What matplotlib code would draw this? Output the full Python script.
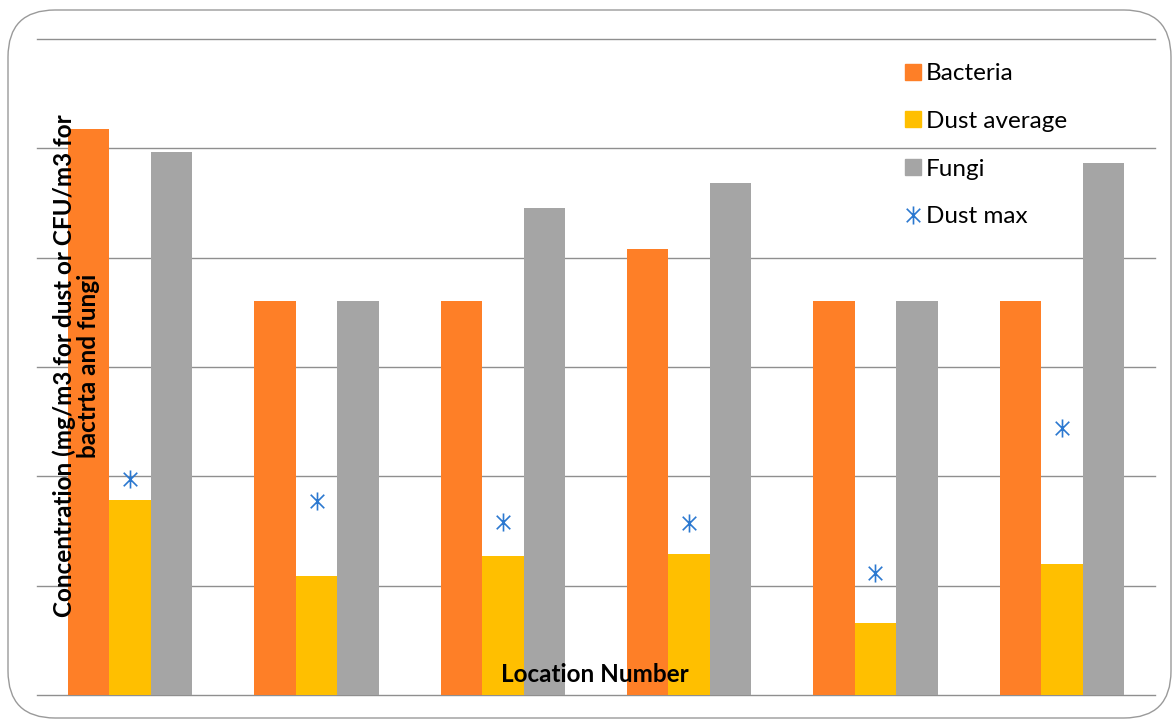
import matplotlib
matplotlib.use("Agg")
import matplotlib.pyplot as plt
import numpy as np
from matplotlib.patches import FancyBboxPatch
from matplotlib.lines import Line2D
from matplotlib.path import Path

plt.rcParams['font.family'] = ['Lato', 'DejaVu Sans']

locations = ["1", "2", "3", "4", "5", "6"]
bacteria = [5.18, 3.60, 3.60, 4.08, 3.60, 3.60]
dust_average = [1.78, 1.09, 1.27, 1.29, 0.66, 1.20]
fungi = [4.97, 3.60, 4.45, 4.68, 3.60, 4.87]
dust_max = [1.98, 1.77, 1.58, 1.57, 1.12, 2.44]

c_bact = "#FE7F27"
c_dust = "#FFBF00"
c_fungi = "#A5A5A5"
c_max = "#2B78D0"

star = Path([(0, -1), (0, 1), (-0.75, -0.75), (0.75, 0.75), (-0.75, 0.75), (0.75, -0.75)],
            [Path.MOVETO, Path.LINETO, Path.MOVETO, Path.LINETO, Path.MOVETO, Path.LINETO])

fig = plt.figure(figsize=(11.76, 7.2), dpi=100)
W, H = 1176, 720
border = FancyBboxPatch((8 / W, 2 / H), (1171 - 8) / W, (710 - 2) / H,
                        boxstyle="round,pad=0,rounding_size=0.04",
                        transform=fig.transFigure, facecolor="none",
                        edgecolor="#9a9a9a", linewidth=1.0, mutation_aspect=W / H,
                        zorder=-1)
fig.patches.append(border)

ax = fig.add_axes([37 / W, (720 - 695) / H, (1155 - 37) / W, (695 - 39) / H])
ax.set_facecolor("none")
x = np.arange(len(locations))
w = 0.2225
ax.bar(x - w, bacteria, w, color=c_bact, zorder=2)
ax.bar(x, dust_average, w, color=c_dust, zorder=2)
ax.bar(x + w, fungi, w, color=c_fungi, zorder=2)
ax.plot(x, dust_max, linestyle="none", marker=star, markersize=13,
        markeredgecolor=c_max, markeredgewidth=1.2, zorder=3)

ax.set_xlim(-0.5, len(locations) - 0.5)
ax.set_ylim(0, 6)
ax.set_yticks(np.arange(0, 7, 1))
ax.grid(axis="y", color="#8f8f8f", linewidth=1.0, zorder=0)
ax.set_axisbelow(True)
for s in ax.spines.values():
    s.set_visible(False)
ax.tick_params(left=False, bottom=False, labelleft=False, labelbottom=False)
for gl in ax.get_ygridlines():
    gl.set_clip_on(False)

fig.text(76 / W, (720 - 366) / H, "Concentration (mg/m3 for dust or CFU/m3 for\nbactrta and fungi",
         rotation=90, ha="center", va="center", fontsize=17.5, fontweight="bold",
         linespacing=1.05, zorder=5)
fig.text(595 / W, (720 - 675) / H, "Location Number", ha="center", va="center",
         fontsize=17.5, fontweight="bold", zorder=5)

handles = [
    Line2D([], [], linestyle="none", marker="s", markersize=11, color=c_bact),
    Line2D([], [], linestyle="none", marker="s", markersize=11, color=c_dust),
    Line2D([], [], linestyle="none", marker="s", markersize=11, color=c_fungi),
    Line2D([], [], linestyle="none", marker=star, markersize=13,
           markeredgecolor=c_max, markeredgewidth=1.2, color=c_max),
]
labels = ["Bacteria", "Dust average", "Fungi", "Dust max"]
leg = fig.legend(handles, labels, loc="upper left", bbox_to_anchor=(891 / W, (720 - 51) / H),
                 frameon=False, fontsize=17.5, labelspacing=1.1, handlelength=0.8,
                 handletextpad=0.15, borderpad=0)

fig.savefig("out.png", dpi=100)
